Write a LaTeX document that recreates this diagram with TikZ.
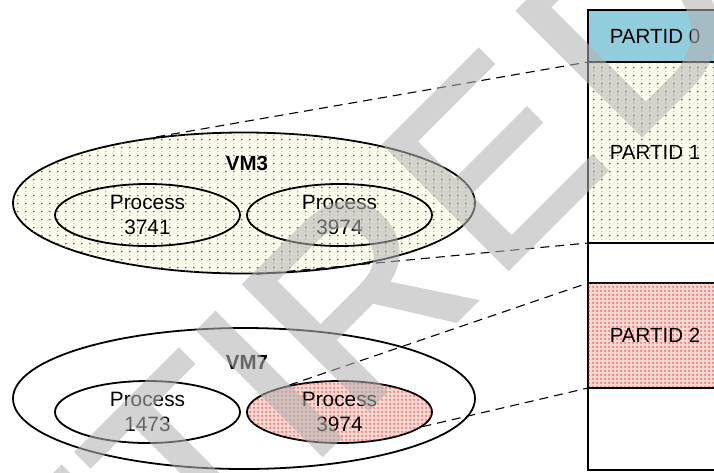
\documentclass[tikz,border=0pt]{standalone}
\usepackage{fontspec}
\setmainfont{Liberation Sans}
\newfontfamily\stampfont[FakeBold=1.6]{Liberation Sans}
\usetikzlibrary{shapes.geometric,patterns}

% colours
\definecolor{partcyan}{RGB}{146,205,221}
\definecolor{ivorybg}{RGB}{255,255,240}
\definecolor{dotdark}{RGB}{84,84,52}
\definecolor{dotlight}{RGB}{170,170,136}
\definecolor{pinkbg}{RGB}{248,214,210}
\definecolor{dotred}{RGB}{215,60,52}

% sparse olive dot grid
\pgfdeclarepatterninherentlycolored{olivedots}{\pgfpointorigin}{\pgfpoint{8pt}{8pt}}{\pgfpoint{8pt}{8pt}}{%
  \pgfsetfillcolor{dotdark}%
  \pgfpathcircle{\pgfpoint{2pt}{6pt}}{1.0pt}\pgfusepath{fill}%
  \pgfsetfillcolor{dotlight}%
  \pgfpathcircle{\pgfpoint{2pt}{2pt}}{0.8pt}\pgfusepath{fill}%
}
% dense red dot grid
\pgfdeclarepatterninherentlycolored{reddots}{\pgfpointorigin}{\pgfpoint{3.5pt}{3.5pt}}{\pgfpoint{3.5pt}{3.5pt}}{%
  \pgfsetfillcolor{dotred}%
  \pgfpathcircle{\pgfpoint{1.2pt}{1.2pt}}{0.95pt}\pgfusepath{fill}%
}

\begin{document}
\begin{tikzpicture}[x=1pt, y=-1pt,
  outline/.style={draw=black, line width=1.8pt},
  vmshape/.style={ellipse, outline, inner sep=0pt, minimum width=462pt, minimum height=141pt},
  procshape/.style={ellipse, outline, inner sep=0pt, minimum width=185pt, minimum height=62pt},
  proclabel/.style={inner sep=0pt, align=center, font=\fontsize{20.8pt}{24.5pt}\selectfont},
  vmlabel/.style={inner sep=0pt, font=\bfseries\fontsize{20.5pt}{24pt}\selectfont},
  dotfill/.style={fill=ivorybg, postaction={pattern=olivedots}},
  redfill/.style={fill=pinkbg, postaction={pattern=reddots}},
  part/.style={rectangle, draw=black, line width=1.2pt, minimum width=134pt, inner sep=0pt, outer sep=0pt,
    font=\fontsize{20.5pt}{24pt}\selectfont},
  link/.style={draw=black, line width=1.1pt, dash pattern=on 9pt off 6pt},
  wmletter/.style={anchor=base west, inner sep=0pt, outer sep=0pt, text=black!30,
    font=\stampfont\fontsize{255pt}{255pt}\selectfont}
]
\useasboundingbox (0,0) rectangle (714,472);
\clip (0,0) rectangle (714,472);

% partition column
\node[part, fill=partcyan, minimum height=52pt] (p0) at (655,36) {PARTID 0};
\node[part, dotfill, minimum height=181pt] (p1) at (655,152.5) {PARTID 1};
\node[part, minimum height=40pt] (gap1) at (655,263) {};
\node[part, redfill, minimum height=105pt] (p2) at (655,335.5) {PARTID 2};
\node[part, minimum height=82pt] (gap2) at (655,429) {};

% VM3 and its processes
\node[vmshape, dotfill] (vm3) at (244,203) {};
\node[procshape] (pa) at (147.5,215) {};
\node[procshape] (pb) at (339.5,215) {};

% VM7 and its processes
\node[vmshape] (vm7) at (244,398.5) {};
\node[procshape] (pc) at (147.5,412) {};
\node[procshape, redfill] (pd) at (339.5,412) {};

% mapping to partitions
\draw[link] (vm3.143) -- (p0.south west);
\draw[link] (vm3.-80) -- (p1.south west);
\draw[link] (pd.152) -- (p2.north west);
\draw[link] (pd.-10) -- (p2.south west);

% labels
\node[vmlabel] (vm3t) at (247,163) {VM3};
\node[vmlabel] (vm7t) at (247,362) {VM7};
\node[proclabel] (pat) at (pa) {Process\\3741};
\node[proclabel] (pbt) at (pb) {Process\\3974};
\node[proclabel] (pct) at (pc) {Process\\1473};
\node[proclabel] (pdt) at (pd) {Process\\3974};

% translucent stamp across the sheet
\begin{scope}[transparency group, opacity=0.57]
\begin{scope}[shift={(327,450)}, rotate=45, transform shape]
  \node[wmletter] (wm1) at (-538,0) {R};
  \node[wmletter] (wm2) at (-354,0) {E};
  \node[wmletter] (wm3) at (-184,0) {T};
  \node[wmletter] (wm4) at (-29.7,0) {I};
  \node[wmletter] (wm5) at (37.9,0) {R};
  \node[wmletter] (wm6) at (235.9,0) {E};
  \node[wmletter] (wm7) at (425,0) {D};
\end{scope}
\end{scope}
\end{tikzpicture}
\end{document}
